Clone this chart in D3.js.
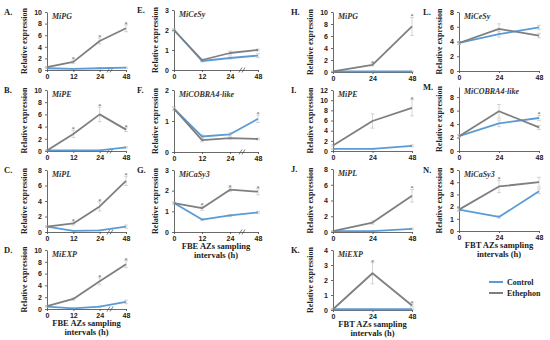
<!DOCTYPE html>
<html>
<head>
<meta charset="utf-8">
<script src="https://cdn.jsdelivr.net/npm/d3@7"></script>
<style>
  body { margin: 0; background: #fff; }
  svg { font-family: "Liberation Serif", "Times New Roman", serif; }
  .tick text { font-size: 7px; font-weight: bold; fill: #222; }
  .axis path, .axis line { stroke: #444; stroke-width: 0.8; }
</style>
</head>
<body>
<div id="graf"></div>
<script>
// categorias (horas)
const horasFBE = ["0", "12", "24", "48"];
const horasFBT = ["0", "24", "48"];

// valores: control / ethephon / errores / asteriscos
const ctrlA = [0.3, 0.2, 0.3, 0.4],  ethA = [0.5, 1.4, 5.0, 7.2];
const errCA = [0.05, 0.05, 0.1, 0.1], errEA = [0.1, 0.3, 0.5, 0.6], starA = [0, 1, 1, 1];
const ctrlB = [0.1, 0.1, 0.1, 0.6],  ethB = [0.1, 2.8, 6.0, 3.5];
const errCB = [0.05, 0.05, 0.05, 0.1], errEB = [0.05, 0.6, 1.2, 0.3], starB = [0, 1, 1, 1];
const ctrlC = [0.7, 0.15, 0.2, 0.7], ethC = [0.7, 1.1, 3.3, 6.6];
const errCC = [0.05, 0.05, 0.05, 0.2], errEC = [0.1, 0.2, 0.6, 0.6], starC = [0, 1, 1, 1];
const ctrlD = [0.4, 0.1, 0.4, 1.2],  ethD = [0.5, 1.7, 4.7, 7.6];
const errCD = [0.1, 0.05, 0.1, 0.3], errED = [0.1, 0.2, 0.6, 0.6], starD = [0, 0, 1, 1];
const ctrlE = [2.0, 0.45, 0.6, 0.72], ethE = [2.0, 0.5, 0.85, 1.0];
const errCE = [0.05, 0.05, 0.05, 0.1], errEE = [0.05, 0.05, 0.1, 0.05], starE = [0, 0, 0, 0];
const ctrlF = [1.4, 0.5, 0.57, 1.07], ethF = [1.4, 0.38, 0.45, 0.42];
const errCF = [0.05, 0.05, 0.05, 0.12], errEF = [0.05, 0.05, 0.03, 0.03], starF = [0, 0, 0, 1];
const ctrlG = [1.4, 0.6, 0.8, 0.95], ethG = [1.4, 1.15, 2.05, 1.95];
const errCG = [0.05, 0.05, 0.05, 0.05], errEG = [0.05, 0.1, 0.1, 0.15], starG = [0, 1, 1, 1];
const ctrlH = [0.1, 0.1, 0.1], ethH = [0.1, 1.2, 7.6];
const errCH = [0.05, 0.05, 0.05], errEH = [0.05, 0.2, 1.5], starH = [0, 1, 1];
const ctrlI = [0.4, 0.4, 1.0], ethI = [1.1, 5.9, 8.5];
const errCI = [0.1, 0.1, 0.2], errEI = [0.2, 1.4, 1.6], starI = [0, 0, 1];
const ctrlJ = [0.1, 0.1, 0.4], ethJ = [0.1, 1.2, 4.6];
const errCJ = [0.05, 0.05, 0.1], errEJ = [0.05, 0.2, 0.8], starJ = [0, 0, 1];
const ctrlK = [0.05, 0.05, 0.05], ethK = [0.05, 2.45, 0.3];
const errCK = [0.02, 0.02, 0.02], errEK = [0.02, 0.7, 0.1], starK = [0, 1, 1];
const ctrlL = [3.8, 5.0, 5.9], ethL = [3.8, 5.7, 4.8];
const errCL = [0.2, 0.4, 0.3], errEL = [0.2, 0.7, 0.3], starL = [0, 0, 0];
const ctrlM = [2.2, 4.1, 4.9], ethM = [2.2, 5.9, 3.5];
const errCM = [0.2, 0.5, 0.4], errEM = [0.2, 1.0, 0.3], starM = [0, 0, 1];
const ctrlN = [1.75, 1.15, 3.25], ethN = [1.75, 3.65, 4.0];
const errCN = [0.1, 0.1, 0.2], errEN = [0.1, 0.5, 0.4], starN = [0, 1, 0];

// ticks de cada eje y
const ticks10 = [0, 2, 4, 6, 8, 10];
const ticks8 = [0, 2, 4, 6, 8];
const ticks12 = [0, 2, 4, 6, 8, 10, 12];
const ticks3 = [0, 1, 2, 3];
const ticks2 = [0, 1, 2];
const ticks4 = [0, 1, 2, 3, 4];
const ticks5 = [0, 1, 2, 3, 4, 5];

const colorControl = "#5b9bd5";
const colorEthephon = "#7f7f7f";

// columnas: posicion del eje y, fin del eje x, posicion de la etiqueta
const col1 = { x0: 47, x1: 126, lab: 4, yl: 27, cats: horasFBE, brk: 110 };
const col2 = { x0: 174, x1: 258, lab: 137, yl: 158, cats: horasFBE, brk: 242 };
const col3 = { x0: 333, x1: 412, lab: 291, yl: 313, cats: horasFBT, brk: null };
const col4 = { x0: 459, x1: 539, lab: 423, yl: 442, cats: horasFBT, brk: null };

const paneles = [
  { col: col1, letra: "A.", gen: "MiPG", top: 12, bot: 70, max: 10, ticks: ticks10, c: ctrlA, e: ethA, ec: errCA, ee: errEA, s: starA },
  { col: col1, letra: "B.", gen: "MiPE", top: 90, bot: 151, max: 10, ticks: ticks10, c: ctrlB, e: ethB, ec: errCB, ee: errEB, s: starB },
  { col: col1, letra: "C.", gen: "MiPL", top: 170, bot: 232, max: 8, ticks: ticks8, c: ctrlC, e: ethC, ec: errCC, ee: errEC, s: starC },
  { col: col1, letra: "D.", gen: "MiEXP", top: 250, bot: 309, max: 10, ticks: ticks10, c: ctrlD, e: ethD, ec: errCD, ee: errED, s: starD, xl: "FBE" },
  { col: col2, letra: "E.", gen: "MiCeSy", top: 10, bot: 70, max: 3, ticks: ticks3, c: ctrlE, e: ethE, ec: errCE, ee: errEE, s: starE },
  { col: col2, letra: "F.", gen: "MiCOBRA4-like", top: 90, bot: 152, max: 2, ticks: ticks2, c: ctrlF, e: ethF, ec: errCF, ee: errEF, s: starF },
  { col: col2, letra: "G.", gen: "MiCaSy3", top: 170, bot: 232, max: 3, ticks: ticks3, c: ctrlG, e: ethG, ec: errCG, ee: errEG, s: starG, xl: "FBE" },
  { col: col3, letra: "H.", gen: "MiPG", top: 12, bot: 72, max: 10, ticks: ticks10, c: ctrlH, e: ethH, ec: errCH, ee: errEH, s: starH },
  { col: col3, letra: "I.", gen: "MiPE", top: 90, bot: 151, max: 12, ticks: ticks12, c: ctrlI, e: ethI, ec: errCI, ee: errEI, s: starI },
  { col: col3, letra: "J.", gen: "MiPL", top: 169, bot: 232, max: 8, ticks: ticks8, c: ctrlJ, e: ethJ, ec: errCJ, ee: errEJ, s: starJ },
  { col: col3, letra: "K.", gen: "MiEXP", top: 250, bot: 310, max: 4, ticks: ticks4, c: ctrlK, e: ethK, ec: errCK, ee: errEK, s: starK, xl: "FBT" },
  { col: col4, letra: "L.", gen: "MiCeSy", top: 12, bot: 71, max: 8, ticks: ticks8, c: ctrlL, e: ethL, ec: errCL, ee: errEL, s: starL },
  { col: col4, letra: "M.", gen: "MiCOBRA4-like", top: 87, bot: 151, max: 9.5, ticks: ticks8, c: ctrlM, e: ethM, ec: errCM, ee: errEM, s: starM },
  { col: col4, letra: "N.", gen: "MiCaSy3", top: 170, bot: 231, max: 5, ticks: ticks5, c: ctrlN, e: ethN, ec: errCN, ee: errEN, s: starN, xl: "FBT" }
];

const svg = d3.select("#graf").append("svg").attr("width", 550).attr("height", 340);

const dibujarPanel = (p) => {
  const col = p.col;
  const x = d3.scalePoint().domain(col.cats).range([col.x0, col.x1]);
  const y = d3.scaleLinear().domain([0, p.max]).range([p.bot, p.top]);
  const g = svg.append("g");

  // ejes
  g.append("g").attr("class", "axis")
    .attr("transform", `translate(${col.x0},0)`)
    .call(d3.axisLeft(y).tickValues(p.ticks).tickFormat(d3.format("d"))
      .tickSize(2).tickSizeOuter(0).tickPadding(3));
  g.append("g").attr("class", "axis")
    .attr("transform", `translate(0,${p.bot})`)
    .call(d3.axisBottom(x).tickSize(2).tickSizeOuter(0).tickPadding(2));

  // marca de corte "//"
  if (col.brk) {
    [-1.5, 1.5].forEach((dx) => {
      g.append("line")
        .attr("x1", col.brk + dx - 1.5).attr("y1", p.bot + 2.5)
        .attr("x2", col.brk + dx + 1.5).attr("y2", p.bot - 2.5)
        .attr("stroke", "#444").attr("stroke-width", 0.7);
    });
  }

  // etiqueta del panel y gen
  g.append("text").attr("x", col.lab).attr("y", p.top + 3)
    .attr("font-size", 8.5).attr("font-weight", "bold").attr("fill", "#222").text(p.letra);
  g.append("text").attr("x", col.x0 + 5).attr("y", p.top + 7)
    .attr("font-size", 8).attr("font-weight", "bold").attr("font-style", "italic")
    .attr("fill", "#333").text(p.gen);

  // titulo eje y
  g.append("text")
    .attr("transform", `translate(${col.yl},${(p.top + p.bot) / 2}) rotate(-90)`)
    .attr("text-anchor", "middle").attr("font-size", 8).attr("font-weight", "bold")
    .attr("fill", "#222").text("Relative expression");

  // titulo eje x
  if (p.xl) {
    const cx = (col.x0 + col.x1) / 2;
    g.append("text").attr("x", cx).attr("y", p.bot + 17)
      .attr("text-anchor", "middle").attr("font-size", 8.5).attr("font-weight", "bold")
      .attr("fill", "#222").text(`${p.xl} AZs sampling`);
    g.append("text").attr("x", cx).attr("y", p.bot + 26)
      .attr("text-anchor", "middle").attr("font-size", 8.5).attr("font-weight", "bold")
      .attr("fill", "#222").text("intervals (h)");
  }

  const series = [
    { v: p.c, err: p.ec, color: colorControl },
    { v: p.e, err: p.ee, color: colorEthephon }
  ];

  // barras de error
  series.forEach((s) => {
    s.v.forEach((d, i) => {
      const cx = x(col.cats[i]);
      const y1 = y(d + s.err[i]), y2 = y(Math.max(0, d - s.err[i]));
      g.append("line").attr("x1", cx).attr("x2", cx).attr("y1", y1).attr("y2", y2)
        .attr("stroke", "#bbb").attr("stroke-width", 0.6);
      [y1, y2].forEach((yy) => {
        g.append("line").attr("x1", cx - 2).attr("x2", cx + 2).attr("y1", yy).attr("y2", yy)
          .attr("stroke", "#bbb").attr("stroke-width", 0.6);
      });
    });
  });

  // lineas
  const linea = d3.line().x((d, i) => x(col.cats[i])).y((d) => y(d));
  series.forEach((s) => {
    g.append("path").datum(s.v).attr("d", linea)
      .attr("fill", "none").attr("stroke", s.color).attr("stroke-width", 1.8)
      .attr("stroke-linejoin", "round");
  });

  // asteriscos
  p.s.forEach((st, i) => {
    if (!st) return;
    const top = Math.max(p.e[i] + p.ee[i], p.c[i] + p.ec[i]);
    g.append("text").attr("x", x(col.cats[i])).attr("y", y(top) + 1)
      .attr("text-anchor", "middle").attr("font-size", 6).attr("fill", "#444").text("*");
  });
};

paneles.forEach(dibujarPanel);

// leyenda
const leyenda = [{ n: "Control", color: colorControl }, { n: "Ethephon", color: colorEthephon }];
leyenda.forEach((d, i) => {
  const yy = 282 + i * 11;
  svg.append("line").attr("x1", 489).attr("x2", 503).attr("y1", yy).attr("y2", yy)
    .attr("stroke", d.color).attr("stroke-width", 2);
  svg.append("text").attr("x", 507).attr("y", yy + 3).attr("font-size", 8)
    .attr("font-weight", "bold").attr("fill", "#222").text(d.n);
});
</script>
</body>
</html>
